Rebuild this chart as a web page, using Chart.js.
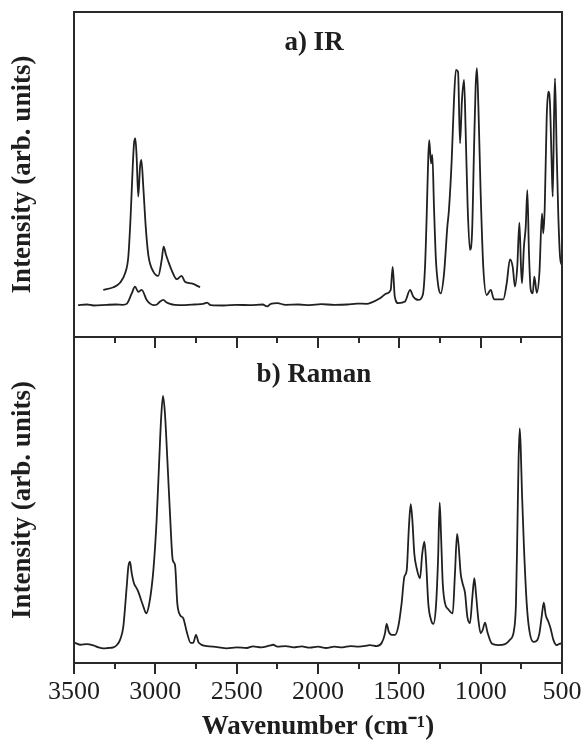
<!DOCTYPE html>
<html lang="en">
<head>
<meta charset="UTF-8">
<title>IR and Raman spectra</title>
<script src="https://cdn.jsdelivr.net/npm/chart.js@4.4.1/dist/chart.umd.min.js"></script>
<style>
    body { margin: 0; background: #fff; }
    .wrap { position: relative; width: 584px; height: 743px; }
    .panel { position: absolute; left: 0; }
    #irBox { top: 0; }
    #ramanBox { top: 330px; }
</style>
</head>
<body>
<div class="wrap">
    <div class="panel" id="irBox"><canvas id="irChart" width="584" height="337"></canvas></div>
    <div class="panel" id="ramanBox"><canvas id="ramanChart" width="584" height="413"></canvas></div>
</div>
<script>
// x axis (wavenumber, cm-1), drawn from 3500 down to 500
const xMajorTicks = [3500, 3000, 2500, 2000, 1500, 1000, 500];
const xMinorTicks = [3250, 2750, 2250, 1750, 1250, 750];

// a) IR spectrum
const irWavenumber = [3475, 3420, 3380, 3300, 3240, 3200, 3176, 3145, 3125, 3105, 3084, 3053, 3030, 3012, 2990,
    2971, 2951, 2930, 2910, 2880, 2820, 2760, 2700, 2682, 2660, 2580, 2500, 2420, 2340, 2313, 2290, 2250, 2200,
    2120, 2050, 1980, 1900, 1820, 1760, 1700, 1680, 1619, 1578, 1553, 1541, 1528, 1506, 1465, 1434, 1414, 1383,
    1356, 1342, 1332, 1322, 1316, 1305, 1297, 1287, 1275, 1260, 1246, 1225, 1205, 1195, 1178, 1164, 1152, 1139,
    1127, 1115, 1102, 1092, 1080, 1066, 1053, 1041, 1031, 1023, 1014, 1000, 984, 963, 938, 918, 861, 840, 820,
    803, 789, 775, 762, 752, 746, 734, 723, 713, 703, 692, 680, 670, 655, 639, 623, 615, 606, 594, 584, 574, 563,
    557, 549, 543, 533, 523, 512, 500];
const irIntensity = [9.8, 10.0, 9.7, 9.9, 10.0, 9.9, 10.2, 13.4, 15.5, 13.9, 14.5, 11.4, 10.2, 9.8, 10.0,
    10.9, 11.4, 10.6, 10.2, 9.9, 9.8, 10.0, 10.3, 10.6, 9.8, 9.7, 9.9, 9.8, 10.0, 9.4, 10.2, 10.4, 9.9,
    10.0, 9.8, 10.1, 9.9, 10.0, 10.3, 10.2, 10.4, 11.9, 13.4, 14.5, 21.6, 12.4, 10.4, 10.9, 14.5, 12.4, 11.4,
    12.9, 21.6, 37, 55.5, 60.6, 53.4, 56, 40.1, 23.7, 15.5, 13.4, 19.6, 33.9, 39.1, 54.5, 72.9, 82.2, 81.6,
    59.6, 72.9, 79.1, 62.7, 40.1, 26.8, 31.9, 57.5, 77, 82.7, 70.9, 44.2, 21.6, 12.9, 14.5, 11.6, 11.6, 16.5, 23.9,
    21.6, 15.5, 21.6, 35.2, 21.6, 16.5, 27.8, 33.9, 45.2, 25.7, 14.5, 13.4, 18.6, 13.6, 19.6, 38, 31.9, 40.1, 67.8, 75.5, 71.9, 52.4,
    43.2, 67.8, 79.6, 57.5, 38, 24.7, 22];

// a) IR, enlarged C-H stretching region
const irZoomWavenumber = [3320, 3258, 3217, 3186, 3166, 3152, 3139, 3131, 3123, 3115, 3105, 3094, 3086, 3074,
    3059, 3043, 3012, 2982, 2961, 2949, 2934, 2920, 2900, 2869, 2838, 2818, 2777, 2725];
const irZoomIntensity = [14.5, 15.3, 16.7, 19.6, 24.7, 37, 52.4, 59.6, 61.1, 55.5, 43.2, 52.4, 54.5, 46.2,
    33.9, 25.2, 20.1, 18.8, 23.7, 27.8, 25.2, 23.2, 20.6, 17.8, 18.8, 17, 16.5, 15.3];

// b) Raman spectrum
const ramanWavenumber = [3494, 3460, 3422, 3381, 3350, 3320, 3290, 3258, 3235, 3217, 3197, 3176, 3166, 3156, 3145,
    3131, 3118, 3105, 3084, 3068, 3057, 3037, 3012, 2992, 2976, 2965, 2953, 2941, 2926, 2910, 2893, 2879, 2865,
    2848, 2828, 2807, 2783, 2767, 2750, 2733, 2684, 2620, 2561, 2500, 2438, 2400, 2350, 2300, 2275, 2250, 2200,
    2150, 2100, 2050, 2000, 1950, 1900, 1850, 1800, 1750, 1700, 1680, 1639, 1608, 1588, 1578, 1565, 1547, 1527,
    1506, 1486, 1469, 1455, 1441, 1430, 1420, 1408, 1393, 1373, 1359, 1346, 1336, 1322, 1305, 1291, 1275, 1262,
    1252, 1244, 1233, 1219, 1199, 1172, 1158, 1145, 1135, 1123, 1111, 1096, 1082, 1066, 1051, 1039, 1029, 1014,
    1000, 988, 973, 959, 932, 892, 850, 820, 795, 783, 775, 767, 760, 754, 746, 734, 717, 701, 676, 656, 639, 625,
    612, 600, 584, 570, 553, 533, 508, 500];
const ramanIntensity = [6.2, 5.6, 5.8, 5.4, 4.8, 4.5, 4.6, 4.8, 5.6, 7.1, 11.1, 23.4, 29.5, 31.1, 27.5,
    24.4, 23.2, 21.9, 18.8, 16.5, 15.2, 18.3, 28.5, 43.9, 62.3, 74.5, 81.9, 76.6, 62.3, 45.9, 31.6, 30.1, 18.3,
    14.7, 13.7, 9.6, 6.2, 6.2, 8.6, 6.2, 5.2, 4.9, 4.5, 4.8, 4.6, 5.1, 4.8, 5.3, 5.6, 5.0, 5.2,
    4.8, 5.1, 4.7, 5.0, 4.6, 5.0, 4.8, 5.2, 5.0, 5.3, 5.5, 5.2, 6.2, 9.1, 12, 9.6, 8.6, 8.6,
    11.3, 18.3, 26.5, 28.3, 41.8, 48.7, 43.9, 33.6, 29, 26, 33.6, 37.2, 31.6, 18.3, 13.2, 12, 17.3, 31.6,
    49.2, 39.8, 24.4, 18.3, 16.5, 15.2, 27.5, 39.6, 35.7, 27.5, 24.4, 21.4, 14.2, 12.2, 20.3, 26, 21.4, 13.2,
    9.1, 10.1, 12.4, 9.6, 6, 5.5, 5.8, 7.1, 10.1, 18.3, 38.7, 62.3, 72, 66.3, 52.1, 35.7, 18.3, 10.1, 6.5, 6.8, 9.1, 14.2,
    18.5, 14.7, 12.7, 10.6, 7.1, 5.5, 6, 5.5];

const SERIF = '"Liberation Serif", "Times New Roman", serif';
const INK = '#1e1e1e';

function points(xs, ys) {
    return xs.map((x, i) => ({ x: x, y: ys[i] }));
}

function lineSet(xs, ys) {
    return {
        data: points(xs, ys),
        borderColor: '#202020',
        borderWidth: 1.8,
        pointRadius: 0,
        fill: false,
        cubicInterpolationMode: 'monotone'
    };
}

// frame around the plot area, tick marks and the panel label
const framePlugin = {
    id: 'frame',
    afterDraw(chart, args, opts) {
        const { ctx, chartArea: a } = chart;
        const x = chart.scales.x;
        ctx.save();
        ctx.strokeStyle = '#2a2a2a';
        ctx.lineWidth = 2;
        ctx.strokeRect(a.left, a.top, a.right - a.left, a.bottom - a.top);
        if (opts.ticks) {
            const tick = (v, len) => {
                const px = Math.round(x.getPixelForValue(v));
                ctx.beginPath();
                ctx.moveTo(px, a.bottom);
                ctx.lineTo(px, a.bottom + len);
                ctx.moveTo(px, a.top);
                ctx.lineTo(px, a.top + len);
                ctx.stroke();
            };
            xMajorTicks.forEach(v => tick(v, 11));
            xMinorTicks.forEach(v => tick(v, 6));
        }
        if (opts.label) {
            ctx.fillStyle = INK;
            ctx.font = 'bold 27px ' + SERIF;
            ctx.textAlign = 'center';
            ctx.textBaseline = 'middle';
            ctx.fillText(opts.label, 314, a.top + opts.labelY);
        }
        ctx.restore();
    }
};

function yAxis() {
    return {
        min: 0,
        max: 100,
        ticks: { display: false },
        grid: { display: false, drawTicks: false },
        border: { display: false },
        title: {
            display: true,
            text: 'Intensity (arb. units)',
            color: INK,
            font: { family: SERIF, size: 27, weight: 'bold' },
            padding: { top: 7, bottom: 0 }
        },
        afterFit: s => { s.width = 74; }
    };
}

new Chart(document.getElementById('irChart'), {
    type: 'line',
    data: {
        datasets: [
            lineSet(irWavenumber, irIntensity),
            lineSet(irZoomWavenumber, irZoomIntensity)
        ]
    },
    options: {
        responsive: false,
        animation: false,
        layout: { padding: { top: 12, right: 22, bottom: 0, left: 0 } },
        plugins: {
            legend: { display: false },
            tooltip: { enabled: false },
            frame: { label: 'a) IR', labelY: 31, ticks: false }
        },
        scales: {
            x: { type: 'linear', min: 500, max: 3500, reverse: true, display: false },
            y: yAxis()
        }
    },
    plugins: [framePlugin]
});

new Chart(document.getElementById('ramanChart'), {
    type: 'line',
    data: {
        datasets: [lineSet(ramanWavenumber, ramanIntensity)]
    },
    options: {
        responsive: false,
        animation: false,
        layout: { padding: { top: 7, right: 22, bottom: 0, left: 0 } },
        plugins: {
            legend: { display: false },
            tooltip: { enabled: false },
            frame: { label: 'b) Raman', labelY: 38, ticks: true }
        },
        scales: {
            x: {
                type: 'linear',
                min: 500,
                max: 3500,
                reverse: true,
                position: 'bottom',
                grid: { display: false, drawTicks: false },
                border: { display: false },
                ticks: {
                    stepSize: 500,
                    autoSkip: false,
                    maxRotation: 0,
                    padding: 14,
                    color: INK,
                    font: { family: SERIF, size: 26 },
                    callback: v => String(v)
                },
                title: {
                    display: true,
                    text: 'Wavenumber (cm⁻¹)',
                    color: INK,
                    font: { family: SERIF, size: 27, weight: 'bold' },
                    padding: { top: 0, bottom: 0 }
                },
                afterFit: s => {
                    s.height = 80;
                    s.paddingLeft = 0;
                    s.paddingRight = 0;
                }
            },
            y: yAxis()
        }
    },
    plugins: [framePlugin]
});
</script>
</body>
</html>
